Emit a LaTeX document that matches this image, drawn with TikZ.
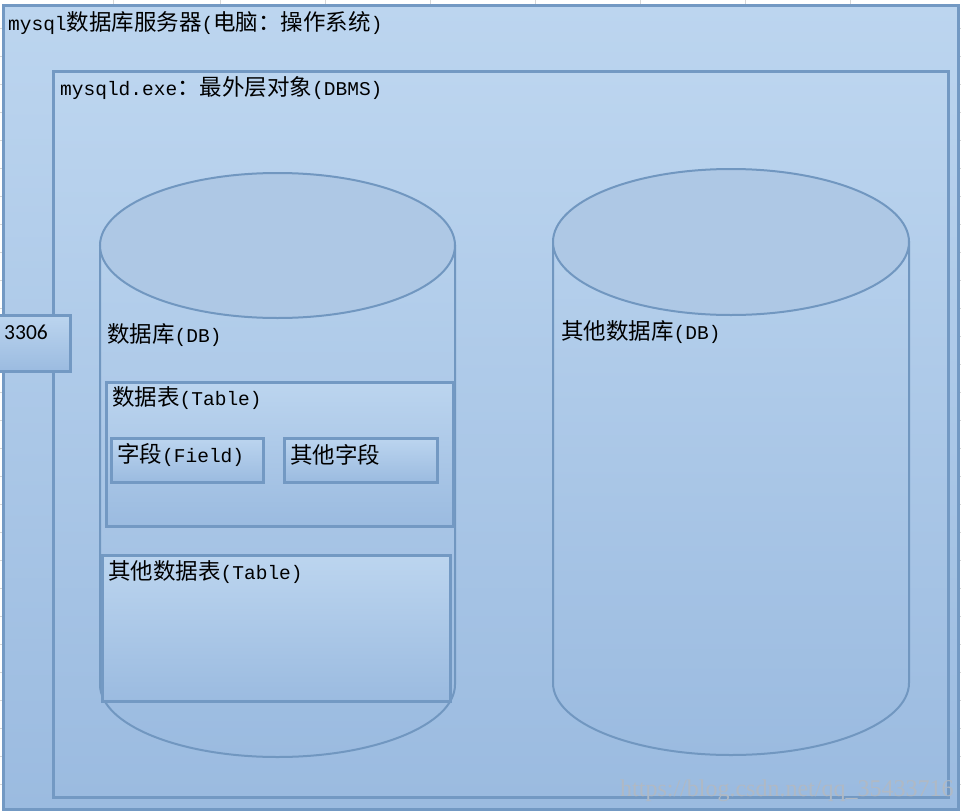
\documentclass[tikz,border=0pt]{standalone}
\usepackage{fontspec}
\setmainfont{Noto Sans CJK SC}
\newfontfamily\mylatfont{Liberation Mono}
\newfontfamily\mynumfont{Carlito}
\newfontfamily\mywmfont{Liberation Serif}
\newcommand\mylat[1]{{\mylatfont\fontsize{19.5}{21}\selectfont #1}}
\definecolor{edge}{HTML}{7399C3}
\definecolor{cyledge}{HTML}{7197C0}
\definecolor{toplight}{HTML}{BCD5EF}
\definecolor{botdark}{HTML}{9BBBE0}
\definecolor{captop}{HTML}{AEC8E5}
\definecolor{grid}{HTML}{D6D6D6}
\definecolor{wmark}{HTML}{B0B9C4}
\tikzset{
  box/.style={draw=edge, line width=3pt, top color=toplight, bottom color=botdark,
    rectangle, inner sep=0pt, minimum width=#1},
  boxh/.style={minimum height=#1},
  lbl/.style={anchor=west, inner sep=0pt, text=black, font=\fontsize{22.5}{25}\selectfont},
  cylbody/.style={draw=cyledge, line width=2pt, top color=toplight!80!botdark, bottom color=botdark},
  cylcap/.style={draw=cyledge, line width=2pt, fill=captop},
}
\begin{document}
\begin{tikzpicture}[x=1pt,y=-1pt]
\useasboundingbox (0,0) rectangle (961,811);
\fill[white] (0,0) rectangle (961,811);
% spreadsheet grid remnants
\foreach \gx in {113,220,325,430,535,640,745,850} \draw[grid, line width=1pt] (\gx,0) -- (\gx,5);
\foreach \gy in {28,56,...,800} {\draw[grid, line width=1pt] (0,\gy) -- (3,\gy); \draw[grid, line width=1pt] (958,\gy) -- (961,\gy);}

% outer server box
\node[box=955pt, boxh=804pt] (server) at (480.5,407) {};
\node[lbl] (serverlbl) at (8,23) {\mylat{mysql}数据库服务器\mylat{(}电脑：操作系统\mylat{)}};

% DBMS box
\node[box=895pt, boxh=726pt] (dbms) at (500.5,434) {};
\node[lbl] (dbmslbl) at (60,88) {\mylat{mysqld.exe}：最外层对象\mylat{(DBMS)}};

% port box
\node[box=73pt, boxh=56pt] (port) at (33.5,343) {};
\node[lbl, font=\mynumfont\fontsize{21.5}{24}\selectfont] (portlbl) at (4,332) {3306};

% cylinder 1 (database)
\path[cylbody] (100,245.5) -- (100,684.5) arc[start angle=180, end angle=360, x radius=177.5, y radius=-72.5] -- (455,245.5) -- cycle;
\path[cylcap] (277.5,245.5) ellipse[x radius=177.5, y radius=72.5];
\node[lbl] (dblbl) at (107,335) {数据库\mylat{(DB)}};

% cylinder 2 (other database)
\path[cylbody] (553,242) -- (553,683) arc[start angle=180, end angle=360, x radius=178, y radius=-72] -- (909,242) -- cycle;
\path[cylcap] (731,242) ellipse[x radius=178, y radius=73];
\node[lbl] (odblbl) at (561,332) {其他数据库\mylat{(DB)}};

% table
\node[box=347pt, boxh=144pt] (table) at (279.5,454) {};
\node[lbl] (tablelbl) at (112,398) {数据表\mylat{(Table)}};
\node[box=152pt, boxh=44pt] (field) at (187,460) {};
\node[lbl] (fieldlbl) at (117,455) {字段\mylat{(Field)}};
\node[box=153pt, boxh=44pt] (ofield) at (360.5,460) {};
\node[lbl] (ofieldlbl) at (290,455) {其他字段};

% other table
\node[box=348pt, boxh=146pt] (otable) at (276,628) {};
\node[lbl] (otablelbl) at (108,572) {其他数据表\mylat{(Table)}};

% watermark
\node[anchor=west, inner sep=0pt, text=wmark, font=\mywmfont\fontsize{24}{26}\selectfont] (wm) at (620,791) {https://blog.csdn.net/qq\_35433716};
\end{tikzpicture}
\end{document}
